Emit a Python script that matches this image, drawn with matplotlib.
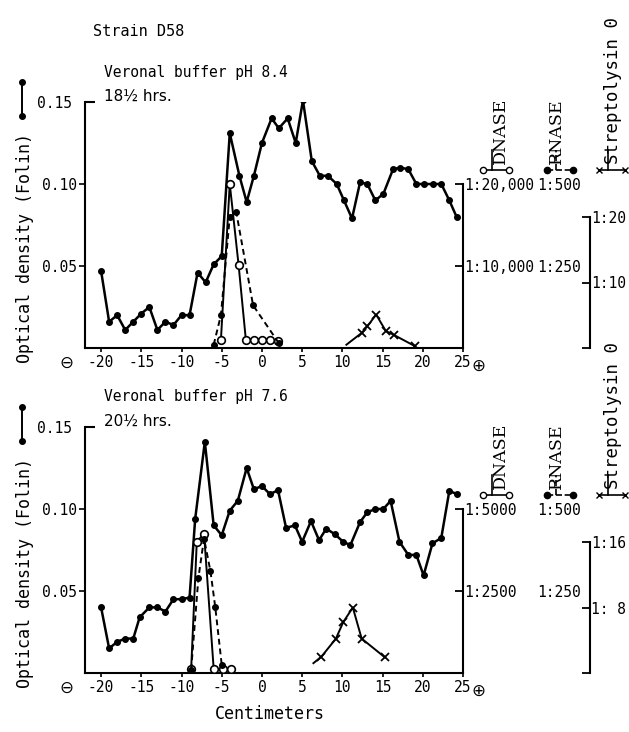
import numpy as np
import matplotlib
matplotlib.use("Agg")
import matplotlib.pyplot as plt
from matplotlib.lines import Line2D

plt.rcParams['font.family'] = ['DejaVu Sans Mono', 'DejaVu Sans']

# ---- data ----
# top panel: Veronal buffer pH 8.4, 18 1/2 hrs
top_x = [-20, -19, -18, -17, -16, -15, -14, -13, -12, -11, -10, -9, -8, -7, -6, -5, -4,
         -2.8, -1.9, -1, 0, 1.2, 2.1, 3.2, 4.2, 5.1, 6.2, 7.2, 8.2, 9.3, 10.2, 11.2, 12.2,
         13.1, 14.1, 15.1, 16.3, 17.2, 18.2, 19.2, 20.2, 21.3, 22.3, 23.3, 24.2]
top_od = [0.047, 0.016, 0.020, 0.011, 0.016, 0.021, 0.025, 0.011, 0.016, 0.014, 0.020,
          0.020, 0.046, 0.040, 0.051, 0.056, 0.131, 0.105, 0.089, 0.105, 0.125, 0.140,
          0.134, 0.140, 0.125, 0.151, 0.114, 0.105, 0.105, 0.100, 0.090, 0.079, 0.101,
          0.100, 0.090, 0.094, 0.109, 0.110, 0.109, 0.100, 0.100, 0.100, 0.100, 0.090, 0.080]
top_dnase_x = [-5.1, -4, -2.9, -2, -1, 0, 1, 2]
top_dnase = [1000, 20000, 10100, 1000, 1000, 1000, 1000, 900]
top_rnase_x = [-6, -5.1, -4, -3.2, -1.1, 2.1]
top_rnase = [10, 100, 400, 415, 130, 15]
top_strep_x = [10.5, 12.4, 13.1, 14.2, 15.4, 16.4, 19.0]
top_strep = [0.5, 2.3, 3.3, 5.1, 2.6, 2.0, 0.3]

# bottom panel: Veronal buffer pH 7.6, 20 1/2 hrs
bot_x = [-20, -19, -18, -17, -16, -15.2, -14, -13, -12, -11, -10, -9, -8.3, -7.1, -6, -5,
         -4, -3, -1.9, -1, 0, 1, 2, 3, 4.1, 5, 6.1, 7.1, 8, 9.1, 10.1, 11, 12.2, 13.1,
         14.1, 15.1, 16, 17.1, 18.2, 19.2, 20.1, 21.2, 22.3, 23.3, 24.3]
bot_od = [0.040, 0.015, 0.019, 0.021, 0.021, 0.034, 0.040, 0.040, 0.0375, 0.045, 0.045,
          0.046, 0.094, 0.141, 0.090, 0.084, 0.099, 0.105, 0.125, 0.112, 0.114, 0.109,
          0.1115, 0.0885, 0.090, 0.080, 0.0926, 0.081, 0.088, 0.0845, 0.080, 0.078, 0.092,
          0.098, 0.100, 0.100, 0.105, 0.080, 0.072, 0.072, 0.0595, 0.079, 0.0824, 0.111, 0.109]
bot_dnase_x = [-8.8, -8.1, -7.2, -6.0, -4.9, -3.9]
bot_dnase = [125, 4000, 4250, 125, 125, 125]
bot_rnase_x = [-8.8, -7.9, -7.2, -6.4, -5.8, -5.0]
bot_rnase = [10, 290, 410, 310, 200, 25]
bot_strep_x = [6.4, 7.4, 9.2, 10.1, 11.3, 12.4, 15.3]
bot_strep = [1.2, 2.0, 4.2, 6.2, 8.0, 4.2, 1.9]

x_ticks = [-20, -15, -10, -5, 0, 5, 10, 15, 20, 25]

W, H = 629, 732
fig = plt.figure(figsize=(W / 100, H / 100), dpi=100)
FS = 10.5


def fx(x):
    return x / W


def fy(y):
    return 1 - y / H


def glyph(xc, y, marker, mfc, ls):
    # small hand-drawn legend symbol under the right-hand labels
    fig.add_artist(Line2D([fx(xc - 13), fx(xc + 13)], [fy(y), fy(y)],
                          transform=fig.transFigure, color='k', lw=1.2, ls=ls,
                          marker=marker, ms=4.5, mfc=mfc, mec='k', mew=1.0))
    fig.add_artist(Line2D([fx(xc - 4), fx(xc - 4)], [fy(y), fy(y - 20)],
                          transform=fig.transFigure, color='k', lw=1.2, ls=ls))


def panel(top, x, od, dx, dn, dn_top, dn_ticks, dn_labels, rx, rn, sx, st, st_top,
          st_ticks, st_labels, buffer_txt, hrs_txt):
    bottom = top + 246
    ax = fig.add_axes([fx(85), fy(bottom), fx(463 - 85), (bottom - top) / H])
    ax.set_xlim(-22, 25)
    ax.set_ylim(0, 0.15)
    ax.patch.set_alpha(0)
    for s in ['top', 'right']:
        ax.spines[s].set_visible(False)
    for s in ['left', 'bottom']:
        ax.spines[s].set_linewidth(1.5)
    ax.set_xticks(x_ticks)
    ax.set_xticklabels([str(t) for t in x_ticks])
    ax.tick_params(axis='x', direction='out', length=3, width=1.2, labelsize=FS, pad=2)
    ax.set_yticks([0.05, 0.10])
    ax.set_yticklabels(['0.05', '0.10'])
    ax.set_yticks([0.15], minor=True)
    ax.set_yticklabels(['0.15'], minor=True)
    ax.tick_params(axis='y', which='major', direction='out', length=4, width=1.2,
                   labelsize=FS, pad=2)
    ax.tick_params(axis='y', which='minor', direction='in', length=7, width=1.5,
                   labelsize=FS, pad=9)

    ax.plot(x, od, '-o', color='k', lw=1.8, ms=4, zorder=3)

    # DNASE scale on the right spine
    axd = ax.twinx()
    axd.set_ylim(0, dn_top)
    for s in ['top', 'left', 'bottom']:
        axd.spines[s].set_visible(False)
    axd.spines['right'].set_bounds(0, dn_ticks[-1])
    axd.spines['right'].set_linewidth(1.5)
    axd.set_yticks(dn_ticks)
    axd.set_yticklabels(dn_labels)
    axd.tick_params(axis='y', direction='in', length=6, width=1.3, labelsize=FS, pad=1)
    axd.plot(dx, dn, '-o', color='k', lw=1.4, ms=5.5, mfc='white', mec='k', mew=1.2,
             zorder=4)

    # RNASE scale (labels only)
    axr = ax.twinx()
    axr.set_ylim(0, 750)
    for s in ['top', 'left', 'bottom', 'right']:
        axr.spines[s].set_visible(False)
    axr.spines['right'].set_position(('axes', 1.195))
    axr.set_yticks([250, 500])
    axr.set_yticklabels(['1:250', '1:500'])
    axr.tick_params(axis='y', length=0, labelsize=FS, pad=0)
    axr.plot(rx, rn, '--o', color='k', lw=1.4, ms=4, dashes=(3, 2), zorder=4)

    # Streptolysin O scale, a separate bracket
    axs = ax.twinx()
    axs.set_ylim(0, st_top)
    for s in ['top', 'left', 'bottom']:
        axs.spines[s].set_visible(False)
    axs.spines['right'].set_position(('axes', 1.336))
    axs.spines['right'].set_bounds(0, st_ticks[-1])
    axs.spines['right'].set_linewidth(1.5)
    axs.set_yticks(st_ticks)
    axs.set_yticklabels(st_labels)
    axs.tick_params(axis='y', direction='in', length=6, width=1.3, labelsize=FS, pad=1)
    axs.plot(sx, st, '-x', color='k', lw=1.4, ms=5.5, mew=1.3, markevery=slice(1, None),
             zorder=4)

    # axis label with its symbol
    fig.text(fx(25), fy(top + 146), 'Optical density (Folin)', rotation=90,
             ha='center', va='center', fontsize=12)
    fig.add_artist(Line2D([fx(22), fx(22)], [fy(top - 20), fy(top + 14)],
                          transform=fig.transFigure, color='k', lw=1.4, marker='o', ms=4))

    ax.text(-0.048, -0.025, '\u2296', transform=ax.transAxes, ha='center', va='top',
            fontsize=12, family='DejaVu Sans')
    ax.text(1.04, -0.035, '\u2295', transform=ax.transAxes, ha='center', va='top',
            fontsize=12, family='DejaVu Sans')

    fig.text(fx(104), fy(top - 30), buffer_txt, ha='left', va='center', fontsize=10.5)
    fig.text(fx(104), fy(top - 6), hrs_txt, ha='left', va='center', fontsize=11,
             family='DejaVu Sans')

    # right-hand legend labels
    ly = top + 68
    fig.text(fx(500), fy(ly - 6), 'DNASE', rotation=90, ha='center', va='bottom',
             fontsize=12.5, family='DejaVu Serif')
    fig.text(fx(556), fy(ly - 6), 'RNASE', rotation=90, ha='center', va='bottom',
             fontsize=12.5, family='DejaVu Serif')
    fig.text(fx(613), fy(ly - 6), 'Streptolysin 0', rotation=90, ha='center',
             va='bottom', fontsize=12.5)
    glyph(496, ly, 'o', 'white', '-')
    glyph(560, ly, 'o', 'k', '--')
    glyph(612, ly, 'x', 'k', '-')
    return ax


panel(102, top_x, top_od, top_dnase_x, top_dnase, 30000, [10000, 20000],
      ['1:10,000', '1:20,000'], top_rnase_x, top_rnase, top_strep_x, top_strep,
      20 * 246 / 131, [0, 10, 20], ['', '1:10', '1:20'],
      'Veronal buffer pH 8.4', '18\u00bd hrs.')
panel(427, bot_x, bot_od, bot_dnase_x, bot_dnase, 7500, [2500, 5000],
      ['1:2500', '1:5000'], bot_rnase_x, bot_rnase, bot_strep_x, bot_strep,
      16 * 246 / 131, [0, 8, 16], ['', '1: 8', '1:16'],
      'Veronal buffer pH 7.6', '20\u00bd hrs.')

fig.text(fx(93), fy(31), 'Strain D58', ha='left', va='center', fontsize=11)
fig.text(fx(270), fy(714), 'Centimeters', ha='center', va='center', fontsize=12)

fig.savefig('out.png', dpi=100)
